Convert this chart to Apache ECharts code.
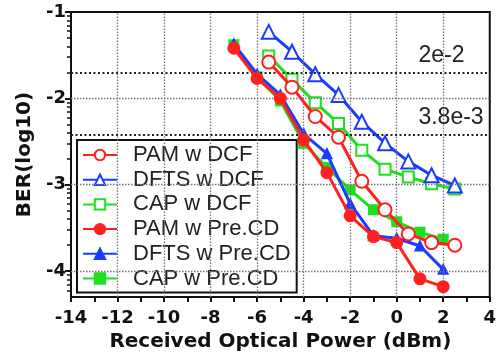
<!DOCTYPE html>
<html>
<head>
<meta charset="utf-8">
<script src="https://cdn.jsdelivr.net/npm/echarts@6/dist/echarts.min.js"></script>
<style>
html,body{margin:0;padding:0;background:#fff;}
#chart{width:499px;height:358px;}
</style>
</head>
<body>
<div id="chart"></div>
<script>
// ---- data ----
const seriesNames = ['PAM w DCF','DFTS w DCF','CAP w DCF','PAM w Pre.CD','DFTS w Pre.CD','CAP w Pre.CD'];
const xDCF = [-5.5,-4.5,-3.5,-2.5,-1.5,-0.5,0.5,1.5,2.5];
const pamDCF = [-1.58,-1.87,-2.21,-2.45,-2.96,-3.29,-3.57,-3.67,-3.70];
const dftsDCF = [-1.23,-1.46,-1.72,-1.96,-2.27,-2.52,-2.73,-2.89,-3.01];
const capDCF = [-1.51,-1.78,-2.05,-2.29,-2.60,-2.82,-2.91,-2.99,-3.05];
const xPre = [-7,-6,-5,-4,-3,-2,-1,0,1,2];
const pamPre = [-1.42,-1.77,-2.00,-2.48,-2.86,-3.36,-3.60,-3.67,-4.09,-4.18];
const dftsPre = [-1.37,-1.72,-1.96,-2.41,-2.64,-3.22,-3.59,-3.62,-3.71,-3.98];
const capPre = [-1.38,-1.75,-2.03,-2.52,-2.80,-3.06,-3.29,-3.43,-3.55,-3.63];
const yTickLabels = [-4,-3,-2,-1];
const minorMultipliers = [2,3,4,5,6,7,8,9];
const minorDecades = [-2,-3,-4,-5];
const thresholds = [{label:'2e-2', ber:0.02},{label:'3.8e-3', ber:0.0038}];
const hGrid = [-2,-3,-4];
const vGrid = [-12,-10,-8,-6,-4,-2,0,2];

const RED='#ff2020', BLUE='#1a3cff', GREEN='#1ee01e';
const yMin=-4.3, yMax=-1;
const minorTicks=[];
minorDecades.forEach(d=>minorMultipliers.forEach(m=>{const v=d+Math.log10(m); if(v>=yMin&&v<=yMax) minorTicks.push(v);}));

function pairs(xs, ys){ return xs.map((x,i)=>[x,ys[i]]); }
function mk(name, xs, ys, color, symbol, size, z){
  return {name, type:'line', data:pairs(xs,ys), symbol, symbolSize:size, z,
    lineStyle:{color, width:3}, itemStyle:{color, borderColor:color, borderWidth:2}, emphasis:{disabled:true}, animation:false};
}
const series=[
  mk('CAP w DCF', xDCF, capDCF, GREEN, 'emptyRect', 11, 3),
  mk('DFTS w DCF', xDCF, dftsDCF, BLUE, 'emptyTriangle', 14, 4),
  mk('PAM w DCF', xDCF, pamDCF, RED, 'emptyCircle', 13, 5),
  mk('CAP w Pre.CD', xPre, capPre, GREEN, 'rect', 9, 3),
  mk('DFTS w Pre.CD', xPre, dftsPre, BLUE, 'triangle', 9, 4),
  mk('PAM w Pre.CD', xPre, pamPre, RED, 'circle', 11, 5)
];
const gridStyle = {color:'#777', width:1.3, type:[1.5,1.5]};
// reference lines & annotations
series.push({type:'line', data:[], silent:true, animation:false, z:1,
  markLine:{symbol:'none', silent:true, animation:false, label:{show:false},
    data: hGrid.map(v=>({yAxis:v, lineStyle:gridStyle}))
      .concat(vGrid.map(v=>({xAxis:v, lineStyle:gridStyle})))
      .concat(thresholds.map(t=>({yAxis:Math.log10(t.ber), lineStyle:{color:'#222', width:2, type:[2,2.5]}})))},
  markPoint:{symbol:'circle', symbolSize:0, silent:true, animation:false,
    data: thresholds.map(t=>({coord:[0.72, Math.log10(t.ber)], value:t.label,
      label:{show:true, formatter:t.label, position:'insideLeft', align:'left', verticalAlign:'bottom', offset:[0,-5],
        fontFamily:'Liberation Sans', fontSize:23, color:'#222'}}))}
});

const chart = echarts.init(document.getElementById('chart'), null, {renderer:'canvas'});
chart.setOption({
  backgroundColor:'#fff',
  animation:false,
  grid:{left:71, right:1, top:12, bottom:61, show:true, borderColor:'#111', borderWidth:2, backgroundColor:'transparent'},
  xAxis:{type:'value', min:-14, max:4, interval:2,
    name:'Received Optical Power (dBm)', nameLocation:'middle', nameGap:32,
    nameTextStyle:{fontFamily:'DejaVu Sans', fontWeight:'bold', fontSize:20, color:'#111'},
    axisLine:{onZero:false, lineStyle:{color:'#111', width:2}},
    axisTick:{show:true, length:5, lineStyle:{color:'#111', width:2}},
    minorTick:{show:true, splitNumber:2, length:5, lineStyle:{color:'#111', width:2}},
    axisLabel:{margin:12, fontFamily:'DejaVu Sans', fontWeight:'bold', fontSize:18, color:'#111',
      formatter:v=>String(v)},
    splitLine:{show:false}
  },
  yAxis:[{type:'value', min:yMin, max:yMax,
    name:'BER(log10)', nameLocation:'middle', nameGap:36,
    nameTextStyle:{fontFamily:'DejaVu Sans', fontWeight:'bold', fontSize:20, color:'#111'},
    axisLine:{show:true, onZero:false, lineStyle:{color:'#111', width:2}},
    axisTick:{show:true, length:6, customValues:yTickLabels, lineStyle:{color:'#111', width:2}},
    axisLabel:{margin:5, customValues:yTickLabels, fontFamily:'DejaVu Sans', fontWeight:'bold', fontSize:18, color:'#111',
      formatter:v=>String(v)},
    splitLine:{show:false}
  },{type:'value', min:yMin, max:yMax, position:'left',
    axisLine:{show:false, onZero:false}, axisLabel:{show:false}, splitLine:{show:false},
    axisTick:{show:true, length:4, customValues:minorTicks, lineStyle:{color:'#111', width:1.5}}
  }],
  legend:{orient:'vertical', left:77, top:140, data:seriesNames, itemWidth:34, itemHeight:13, itemGap:2.7,
    padding:[4,6,3,5], backgroundColor:'#fff', borderColor:'#111', borderWidth:2,
    selectedMode:false,
    textStyle:{fontFamily:'Liberation Sans', fontSize:22, color:'#222', lineHeight:22, padding:[0,0,0,11]}},
  series
});
</script>
</body>
</html>
